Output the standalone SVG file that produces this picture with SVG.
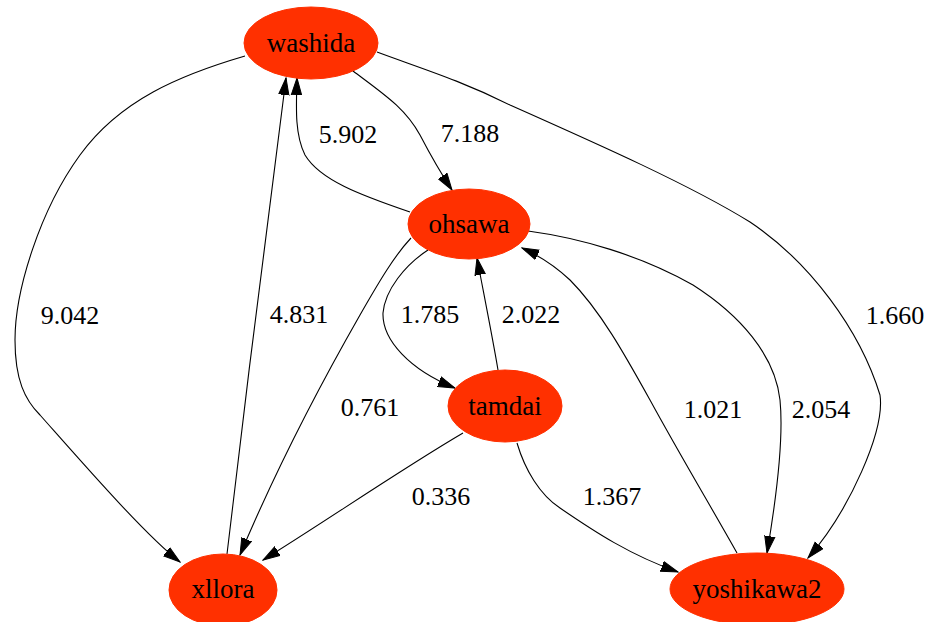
<svg xmlns="http://www.w3.org/2000/svg" width="928" height="622" viewBox="0 0 928 622">
<style>
.node ellipse{fill:#ff3000;stroke:#ff3000;stroke-width:1}
.node text{font-family:'Times New Roman','Liberation Serif','DejaVu Serif',serif;font-size:27px;fill:#000;text-anchor:middle}
.edge path{fill:none;stroke:#000;stroke-width:1.1;marker-end:url(#ah)}
.lbl{font-family:'Times New Roman','Liberation Serif','DejaVu Serif',serif;font-size:26px;fill:#000;text-anchor:middle}
</style>
<defs>
<marker id="ah" markerUnits="userSpaceOnUse" markerWidth="18" markerHeight="12" viewBox="0 0 18 12" refX="17" refY="6" orient="auto">
<path d="M0,0.8 L17,6 L0,11.2 Z" fill="#000" stroke="#000" stroke-width="1"/>
</marker>
</defs>
<rect width="928" height="622" fill="#fff"/>
<g id="edges" class="edge">
<path d="M245,56 C180,75 120,100 80,155 C40,210 15,290 15,340 C15,380 25,400 40,415 C80,460 145,535 180,562"/>
<path d="M227,554 C245,400 270,200 286,78"/>
<path d="M410,212 C360,195 320,180 305,155 C295,135 296,110 297,78"/>
<path d="M353,71 C385,95 405,108 420,135 C432,158 440,172 452,190"/>
<path d="M377,52 C420,68 460,80 510,105 C600,145 690,185 750,222 C810,262 860,330 880,395 C885,430 850,510 808,558"/>
<path d="M528,231 C580,238 640,255 693,285 C740,315 775,355 780,400 C784,440 776,500 767,553"/>
<path d="M737,553 C710,505 680,455 650,400 C625,355 600,310 570,280 C555,266 540,256 522,248"/>
<path d="M498,370 C493,340 484,295 477,258"/>
<path d="M428,250 C405,265 385,290 383,313 C382,340 410,370 455,388"/>
<path d="M411,238 C395,255 380,280 360,315 C320,385 280,460 240,555"/>
<path d="M463,433 C400,470 320,525 263,560"/>
<path d="M517,443 C525,470 540,495 560,508 C595,532 630,555 678,572"/>
<text class="lbl" x="70" y="324">9.042</text>
<text class="lbl" x="299" y="323">4.831</text>
<text class="lbl" x="348" y="143">5.902</text>
<text class="lbl" x="470" y="142">7.188</text>
<text class="lbl" x="895" y="324">1.660</text>
<text class="lbl" x="821" y="418">2.054</text>
<text class="lbl" x="713" y="418">1.021</text>
<text class="lbl" x="531" y="323">2.022</text>
<text class="lbl" x="430" y="323">1.785</text>
<text class="lbl" x="370" y="416">0.761</text>
<text class="lbl" x="441" y="505">0.336</text>
<text class="lbl" x="612" y="505">1.367</text>
</g>
<g id="washida" class="node"><ellipse cx="311" cy="43" rx="67" ry="36"/><text x="311" y="52">washida</text></g>
<g id="ohsawa" class="node"><ellipse cx="469" cy="224" rx="61" ry="35"/><text x="469" y="233">ohsawa</text></g>
<g id="tamdai" class="node"><ellipse cx="505" cy="406" rx="57" ry="36"/><text x="505" y="415">tamdai</text></g>
<g id="xllora" class="node"><ellipse cx="223" cy="590" rx="54" ry="36"/><text x="223" y="598">xllora</text></g>
<g id="yoshikawa2" class="node"><ellipse cx="757" cy="589" rx="87" ry="36"/><text x="757" y="598">yoshikawa2</text></g>
</svg>
